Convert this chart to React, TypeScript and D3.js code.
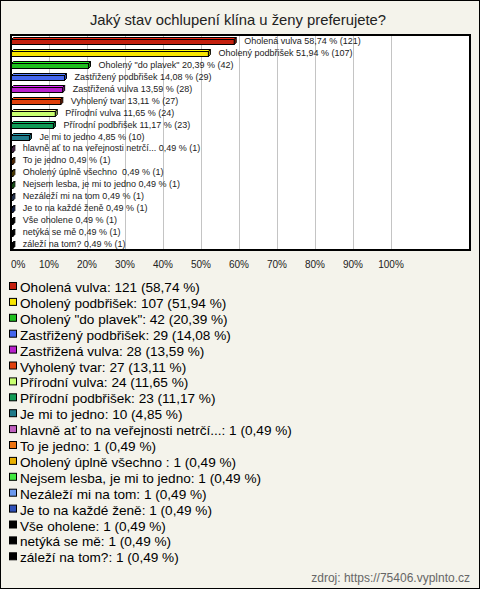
import React from "react";
import * as d3 from "d3";

const title = "Jaký stav ochlupení klína u ženy preferujete?";
const categories = [
  "Oholená vulva",
  "Oholený podbřišek",
  "Oholený \"do plavek\"",
  "Zastřižený podbřišek",
  "Zastřižená vulva",
  "Vyholený tvar",
  "Přírodní vulva",
  "Přírodní podbřišek",
  "Je mi to jedno",
  "hlavně ať to na veřejnosti netrčí...",
  "To je jedno",
  "Oholený úplně všechno ",
  "Nejsem lesba, je mi to jedno",
  "Nezáleží mi na tom",
  "Je to na každé ženě",
  "Vše oholene",
  "netýká se mě",
  "záleží na tom?",
];
const counts = [121, 107, 42, 29, 28, 27, 24, 23, 10, 1, 1, 1, 1, 1, 1, 1, 1, 1];
const total = 206;
const colors = [
  "#c4200f", "#f6e400", "#1fbf1f", "#4466ee", "#b820cc", "#e0400c",
  "#c8ff70", "#109a55", "#1f7a8a", "#c060c0", "#ee7410", "#e8b000",
  "#40e840", "#6a98ee", "#2f50b8", "#000000", "#000000", "#000000",
];
const ticks = [0, 10, 20, 30, 40, 50, 60, 70, 80, 90, 100];
const source = "zdroj: https://75406.vyplnto.cz";

const W = 480;
const H = 589;

function fmt(v: number) {
  return v.toFixed(2).replace(".", ",");
}

export default function App() {
  const plot = { left: 11, right: 470, top: 35, bottom: 250 };
  const x = d3.scaleLinear().domain([0, 100]).range([11, 391]);
  const y = d3.scaleBand<number>().domain(d3.range(categories.length)).range([plot.top, plot.bottom]);
  const pct = counts.map((c) => (c / total) * 100);
  const d = 2;
  const bh = 5;
  const legendY = d3.scaleLinear().domain([0, 1]).range([292, 307.9]);

  return (
    <svg width={W} height={H} style={{ position: "absolute", left: 0, top: 0, display: "block" }}>
      <rect x={0.5} y={0.5} width={W - 1} height={H - 1} fill="#f4f3eb" stroke="#000" />
      <text x={238} y={25} textAnchor="middle" fontFamily="Liberation Sans, Arial, sans-serif" fontSize={14.8} fill="#222">
        {title}
      </text>
      <rect x={plot.left} y={plot.top} width={plot.right - plot.left} height={plot.bottom - plot.top} fill="#fff" stroke="#000" strokeWidth={2} />
      {ticks.slice(1).map((t) => (
        <line key={t} x1={Math.round(x(t)) + 0.5} x2={Math.round(x(t)) + 0.5} y1={plot.top + 1} y2={plot.bottom - 1} stroke="#c4c4c4" />
      ))}
      {pct.map((p, i) => {
        const cy = (y(i) as number) + y.bandwidth() / 2;
        const x0 = x(0) + 0.5;
        const x1 = Math.max(x(p), x0 + 1);
        const y0 = Math.round(cy - bh / 2 + d / 2) + 0.5;
        const y1 = y0 + bh;
        const c = d3.color(colors[i])!;
        const top = c.brighter(0.6).toString();
        const side = c.darker(0.8).toString();
        return (
          <g key={i} stroke="#000" strokeWidth={1} strokeLinejoin="miter">
            <polygon points={`${x0},${y0} ${x0 + d},${y0 - d} ${x1 + d},${y0 - d} ${x1},${y0}`} fill={top} />
            <polygon points={`${x1},${y0} ${x1 + d},${y0 - d} ${x1 + d},${y1 - d} ${x1},${y1}`} fill={side} />
            <rect x={x0} y={y0} width={x1 - x0} height={bh} fill={colors[i]} />
          </g>
        );
      })}
      {pct.map((p, i) => {
        const cy = (y(i) as number) + y.bandwidth() / 2;
        return (
          <text
            key={i}
            x={x(p) + 10}
            y={cy + 3}
            fontFamily="Liberation Sans, Arial, sans-serif"
            fontSize={9}
            fill="#222"
            style={{ whiteSpace: "pre" }}
          >
            {`${categories[i]} ${fmt(p)} % (${counts[i]})`}
          </text>
        );
      })}
      {ticks.map((t, i) => (
        <text
          key={t}
          x={x(t)}
          y={268}
          textAnchor={i === 0 ? "start" : "middle"}
          fontFamily="Liberation Sans, Arial, sans-serif"
          fontSize={10}
          fill="#222"
        >
          {`${t}%`}
        </text>
      ))}
      {categories.map((cat, i) => {
        const ly = legendY(i);
        return (
          <g key={i}>
            <rect x={9.5} y={ly - 9.5} width={7} height={7} fill={colors[i]} stroke="#000" />
            <text x={20} y={ly} fontFamily="Liberation Sans, Arial, sans-serif" fontSize={13.6} fill="#000" style={{ whiteSpace: "pre" }}>
              {`${cat}: ${counts[i]} (${fmt(pct[i])} %)`}
            </text>
          </g>
        );
      })}
      <text x={470} y={582} textAnchor="end" fontFamily="Liberation Sans, Arial, sans-serif" fontSize={12} fill="#666">
        {source}
      </text>
    </svg>
  );
}
